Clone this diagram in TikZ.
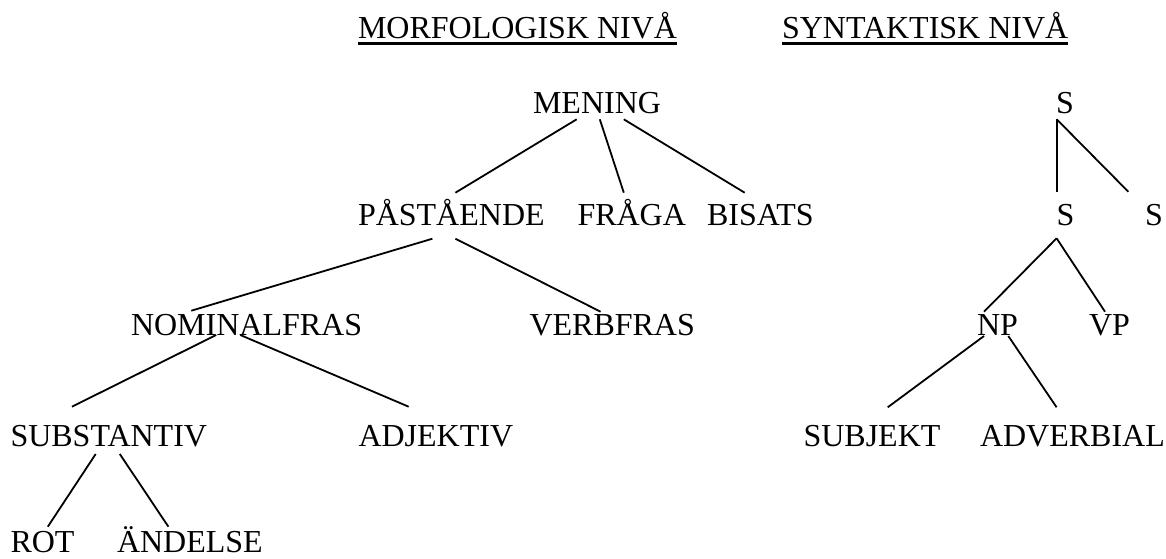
\documentclass[tikz,border=0pt]{standalone}
\usepackage{fontspec}
\setmainfont{Liberation Serif}
\usetikzlibrary{calc}

\begin{document}
\begin{tikzpicture}[x=0.75pt,y=-0.75pt,
        word/.style={anchor=base west,inner sep=0pt,outer sep=0pt,font=\fontsize{24}{28}\selectfont},
        branch/.style={line width=1.35pt}]
        %--- Arguments ----
        \def \rowH {38.5} % headings
        \def \rowA {113.3} % top level
        \def \rowB {225} % second level
        \def \rowC {335} % third level
        \def \rowD {446} % fourth level
        \def \rowE {552.5} % fifth level
        \def \ul {5} % underline below baseline
        \useasboundingbox (0,0) rectangle (1166,558);
        %--- Headings ---
        \node [word] (morf) at (358,\rowH) {MORFOLOGISK NIVÅ};
        \node [word] (synt) at (782,\rowH) {SYNTAKTISK NIVÅ};
        \draw [line width=1.8pt] ($(morf.base west)+(0,\ul)$) -- ($(morf.base east)+(0,\ul)$);
        \draw [line width=1.8pt] ($(synt.base west)+(0,\ul)$) -- ($(synt.base east)+(0,\ul)$);
        %--- Morphological tree ---
        \node [word] (mening) at (533,\rowA) {MENING};
        \node [word] (pastaende) at (358,\rowB) {PÅSTÅENDE};
        \node [word] (fraga) at (577.5,\rowB) {FRÅGA};
        \node [word] (bisats) at (707,\rowB) {BISATS};
        \node [word] (nominalfras) at (131,\rowC) {NOMINALFRAS};
        \node [word] (verbfras) at (529.5,\rowC) {VERBFRAS};
        \node [word] (substantiv) at (10.5,\rowD) {SUBSTANTIV};
        \node [word] (adjektiv) at (358.5,\rowD) {ADJEKTIV};
        \node [word] (rot) at (10.5,\rowE) {ROT};
        \node [word] (andelse) at (117,\rowE) {ÄNDELSE};
        %--- Syntactic tree ---
        \node [word] (sTop) at (1056,\rowA) {S};
        \node [word] (sMid) at (1056.5,\rowB) {S};
        \node [word] (sRight) at (1145,\rowB) {S};
        \node [word] (np) at (977,\rowC) {NP};
        \node [word] (vp) at (1089,\rowC) {VP};
        \node [word] (subjekt) at (803.5,\rowD) {SUBJEKT};
        \node [word] (adverbial) at (980,\rowD) {ADVERBIAL};
        %--- Lines ---
        % mening
        \draw [branch] ($(mening.base west)+(43.7,6)$) -- ($(pastaende.base west)+(97.4,-32.3)$);
        \draw [branch] ($(mening.base west)+(66.8,6)$) -- ($(fraga.base west)+(46.3,-32.3)$);
        \draw [branch] ($(mening.base west)+(90.8,6)$) -- ($(bisats.base west)+(37.7,-32.3)$);
        % paastaende
        \draw [branch] ($(pastaende.base west)+(74.4,13.7)$) -- ($(nominalfras.base west)+(60.3,-24.3)$);
        \draw [branch] ($(pastaende.base west)+(97.4,13.7)$) -- ($(verbfras.base west)+(71.1,-23.3)$);
        % nominalfras
        \draw [branch] ($(nominalfras.base west)+(85.2,0)$) -- ($(substantiv.base west)+(61.4,-39.3)$);
        \draw [branch] ($(nominalfras.base west)+(109.3,0)$) -- ($(adjektiv.base west)+(50.2,-39.3)$);
        % substantiv
        \draw [branch] ($(substantiv.base west)+(85.2,8)$) -- ($(rot.base west)+(37.3,-25.8)$);
        \draw [branch] ($(substantiv.base west)+(109.3,8)$) -- ($(andelse.base west)+(51.4,-25.8)$);
        % S
        \draw [branch] ($(sTop.base west)+(0.7,6)$) -- ($(sMid.base west)+(0.2,-33.3)$);
        \draw [branch] ($(sTop.base west)+(0.7,6)$) -- ($(sRight.base west)+(-16.7,-33.3)$);
        \draw [branch] ($(sMid.base west)+(0.1,13.3)$) -- ($(np.base west)+(7,-23.3)$);
        \draw [branch] ($(sMid.base west)+(0.1,13.3)$) -- ($(vp.base west)+(16,-23.3)$);
        % NP
        \draw [branch] ($(np.base west)+(7,1)$) -- ($(subjekt.base west)+(84.2,-38.7)$);
        \draw [branch] ($(np.base west)+(31.3,1)$) -- ($(adverbial.base west)+(76.6,-38.7)$);
    \end{tikzpicture}
\end{document}
